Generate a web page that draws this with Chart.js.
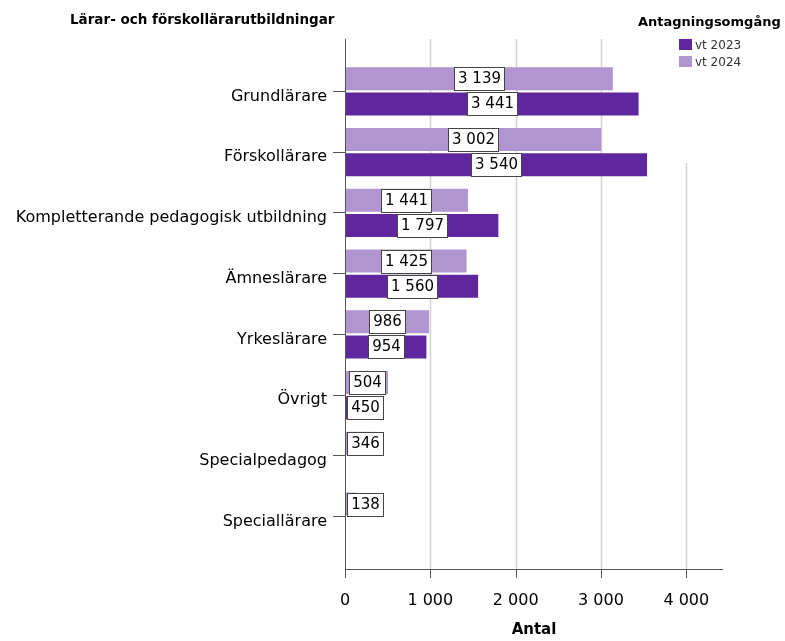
<!DOCTYPE html>
<html lang="sv">
<head>
<meta charset="utf-8">
<script src="https://cdn.jsdelivr.net/npm/chart.js@4/dist/chart.umd.min.js"></script>
<style>
  html, body { margin: 0; padding: 0; background: #fff; }
  #wrap { width: 785px; height: 641px; }
</style>
</head>
<body>
<div id="wrap"><canvas id="chart" width="785" height="641"></canvas></div>
<script>
"use strict"

// data
const categories = [
  "Grundlärare",
  "Förskollärare",
  "Kompletterande pedagogisk utbildning",
  "Ämneslärare",
  "Yrkeslärare",
  "Övrigt",
  "Specialpedagog",
  "Speciallärare",
]
const vt2023 = [3441, 3540, 1797, 1560, 954, 450, null, null]
const vt2024 = [3139, 3002, 1441, 1425, 986, 504, 346, 138]
const xTicks = [0, 1000, 2000, 3000, 4000]

const chartTitle = "Lärar- och förskollärarutbildningar"
const legendTitle = "Antagningsomgång"
const axisTitle = "Antal"

const dark = "#60269e"
const light = "#b195d0"
const FONT = "'DejaVu Sans', sans-serif"

// "3139" -> "3 139"
function fmt(v) {
  return String(v).replace(/\B(?=(\d{3})+(?!\d))/g, " ")
}

// axes, gridlines, value boxes, title and legend
const decor = {
  id: "decor",
  beforeDatasetsDraw(chart) {
    const ctx = chart.ctx
    const x = chart.scales.x
    ctx.save()
    ctx.strokeStyle = "#d2d2d2"
    ctx.lineWidth = 1.5
    xTicks.forEach((t) => {
      if (t === 0) return
      const px = Math.round(x.getPixelForValue(t)) + 0.5
      ctx.beginPath()
      ctx.moveTo(px, t === 4000 ? 163 : 39)
      ctx.lineTo(px, 569)
      ctx.stroke()
    })
    ctx.restore()
  },
  afterDatasetsDraw(chart) {
    const ctx = chart.ctx
    const x = chart.scales.x
    const x0 = Math.round(x.getPixelForValue(0)) + 0.5
    ctx.save()

    // axis lines and x tick marks
    ctx.strokeStyle = "#555"
    ctx.lineWidth = 1
    ctx.beginPath()
    ctx.moveTo(x0, 39)
    ctx.lineTo(x0, 578)
    ctx.moveTo(x0, 569.5)
    ctx.lineTo(723, 569.5)
    xTicks.forEach((t) => {
      const px = Math.round(x.getPixelForValue(t)) + 0.5
      ctx.moveTo(px, 569)
      ctx.lineTo(px, 578)
    })
    ctx.stroke()

    // value boxes, kept to the right of the axis
    ctx.font = "15px " + FONT
    ctx.textAlign = "center"
    ctx.textBaseline = "middle"
    chart.data.datasets.forEach((ds, i) => {
      const meta = chart.getDatasetMeta(i)
      meta.data.forEach((bar, j) => {
        const v = ds.data[j]
        if (v === null) return
        const txt = fmt(v)
        const w = Math.round(ctx.measureText(txt).width + 7)
        const h = 23
        let left = Math.round((bar.x + bar.base) / 2 - w / 2)
        if (left < x0 + 1) left = Math.round(x0 + 1)
        const top = Math.round(bar.y - h / 2)
        ctx.fillStyle = "#fff"
        ctx.fillRect(left, top, w, h)
        ctx.strokeStyle = "#444"
        ctx.strokeRect(left + 0.5, top + 0.5, w, h)
        ctx.fillStyle = "#000"
        ctx.fillText(txt, left + w / 2 + 0.5, top + h / 2 + 1)
      })
    })

    // chart title
    ctx.fillStyle = "#000"
    ctx.textAlign = "left"
    ctx.textBaseline = "alphabetic"
    ctx.font = "bold 13.5px " + FONT
    ctx.fillText(chartTitle, 70, 24)

    // legend
    ctx.font = "bold 13px " + FONT
    ctx.fillText(legendTitle, 638, 26)
    ctx.font = "12px " + FONT
    const items = [
      { label: "vt 2023", color: dark },
      { label: "vt 2024", color: light },
    ]
    items.forEach((it, i) => {
      const y = 39 + i * 17
      ctx.fillStyle = it.color
      ctx.fillRect(679, y, 13, 11)
      ctx.fillStyle = "#333"
      ctx.fillText(it.label, 695, y + 10)
    })
    ctx.restore()
  },
}

const chart = new Chart(document.getElementById("chart"), {
  type: "bar",
  data: {
    labels: categories,
    datasets: [
      {
        label: "vt 2024",
        data: vt2024,
        backgroundColor: light,
        categoryPercentage: 0.825,
        barPercentage: 0.92,
      },
      {
        label: "vt 2023",
        data: vt2023,
        backgroundColor: dark,
        categoryPercentage: 0.825,
        barPercentage: 0.92,
      },
    ],
  },
  options: {
    indexAxis: "y",
    responsive: false,
    animation: false,
    layout: {
      padding: { left: 0, right: 62, top: 61, bottom: 0 },
    },
    scales: {
      x: {
        min: 0,
        max: 4430,
        grid: { display: false },
        border: { display: false },
        afterBuildTicks: (scale) => {
          scale.ticks = xTicks.map((v) => ({ value: v }))
        },
        ticks: {
          padding: 36,
          color: "#000",
          font: { family: FONT, size: 16 },
          callback: (v) => fmt(v),
        },
        title: {
          display: true,
          text: axisTitle,
          color: "#000",
          font: { family: FONT, size: 15, weight: "bold" },
          padding: { top: 0, bottom: 2 },
        },
        afterFit: (scale) => {
          scale.height = 94
        },
      },
      y: {
        grid: {
          display: true,
          drawOnChartArea: false,
          offset: false,
          tickLength: 12,
          color: "#555",
        },
        border: { display: false },
        ticks: {
          padding: 6,
          labelOffset: 5,
          color: "#000",
          font: { family: FONT, size: 16 },
        },
        afterFit: (scale) => {
          scale.width = 345
        },
      },
    },
    plugins: {
      legend: { display: false },
      tooltip: { enabled: false },
    },
  },
  plugins: [decor],
})
</script>
</body>
</html>
